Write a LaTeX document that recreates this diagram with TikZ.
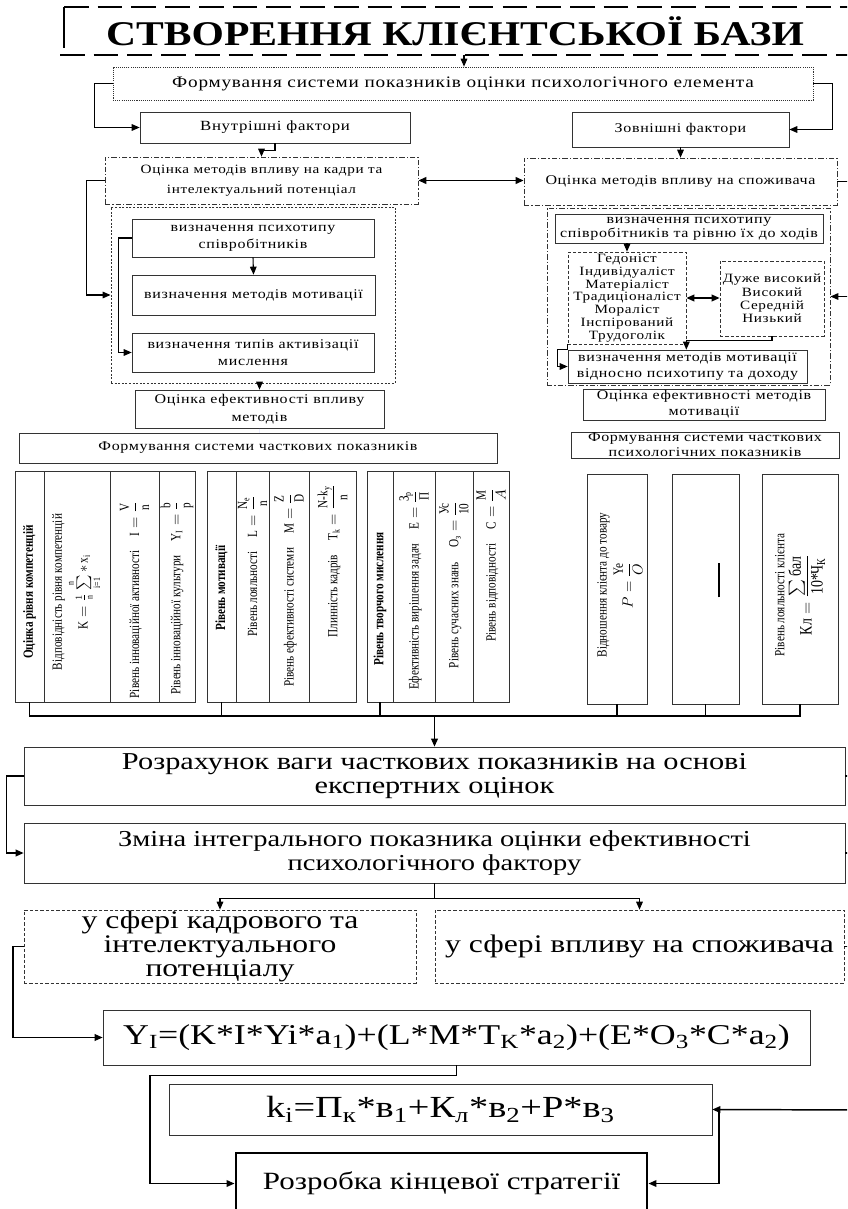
\documentclass[tikz,border=0pt]{standalone}
\usepackage{amsmath}
\usepackage{fontspec}
\setmainfont{Liberation Serif}
\newfontfamily\lsp[FakeStretch=1.2,LetterSpace=5]{Liberation Serif}
\newfontfamily\wide[FakeStretch=1.25]{Liberation Serif}
\newfontfamily\cond[FakeStretch=0.8]{Liberation Serif}
\newfontfamily\titlef[FakeStretch=1.2]{Liberation Serif Bold}
\usetikzlibrary{arrows.meta,calc}
\newcommand{\bxn}[6][]{\node[bx,#1, minimum width={(#5-#3)*0.75pt}, minimum height={(#6-#4)*0.75pt}] (#2) at ({(#3+#5)/2},{(#4+#6)/2})}
\begin{document}
\begin{tikzpicture}[x=0.75pt,y=-0.75pt,
  bx/.style={draw=black!80, line width=0.5pt, inner sep=0pt, align=center, text=black},
  sm/.style={font=\lsp\fontsize{10}{12}\selectfont},
  wd/.style={font=\wide\fontsize{17.5}{17.5}\selectfont},
  fm/.style={font=\wide\fontsize{21.5}{22}\selectfont},
  arr/.style={-{Triangle[length=6pt,width=5pt]}, line width=0.8pt},
  dbl/.style={{Triangle[length=6pt,width=5pt]}-{Triangle[length=6pt,width=5pt]}, line width=1.4pt},
  ln/.style={line width=0.8pt},
  dotb/.style={dash pattern=on 0.8pt off 0.8pt},
  ddotb/.style={dash pattern=on 4pt off 1.5pt on 1pt off 1.5pt},
  dashb/.style={dash pattern=on 2.5pt off 1.5pt},
  col/.style={draw=black!80, line width=0.5pt, inner sep=0pt},
  ctext/.style={font=\cond\fontsize{10.5}{12}\selectfont, align=center, inner sep=0pt, rotate=90},
  bus/.style={line width=1.2pt}
]
\clip (0,0) rectangle (847,1209);
\fill[white] (0,0) rectangle (847,1209);

% title
\node[font=\titlef\fontsize{26}{26}\selectfont, inner sep=0pt] (title) at (455,31.5) {СТВОРЕННЯ КЛІЄНТСЬКОЇ БАЗИ};
\draw[line width=1.4pt, dash pattern=on 18.5pt off 6.8pt] (64,7) -- (870,7);
\draw[line width=1.4pt, dash pattern=on 18.5pt off 6.8pt] (60,55) -- (870,55);
\draw[line width=1.2pt] (64,7) -- (64,48);
\coordinate (t0) at (464,55);

% top row
\bxn[dotb, font=\lsp\fontsize{12}{13}\selectfont]{f1}{113}{67}{813}{100}{Формування системи показників оцінки психологічного елемента};
\draw[arr] (t0) -- (t0 |- f1.north);
\bxn[font=\lsp\fontsize{10.5}{12}\selectfont]{vn}{140}{112}{410}{143}{Внутрішні фактори};
\bxn[sm]{zv}{572}{112}{789}{147}{Зовнішні фактори};
\draw[arr] (f1.west) -- ++(-18,0) |- (vn.west);
\draw[arr] (f1.east) -- ++(19,0) |- (zv.east);

\bxn[ddotb, font=\lsp\fontsize{9.5}{15}\selectfont]{o1}{105}{157}{418}{204}{Оцінка методів впливу на кадри та\\інтелектуальний потенціал};
\bxn[ddotb, sm]{o2}{524}{158}{837}{205}{Оцінка методів впливу на споживача};
\draw[arr] (vn.south) -- ++(0,7) -| (o1.north);
\draw[arr] (zv.south) -- (o2.north);
\draw[dbl] (o1.east) -- (o1.east -| o2.west);

% left container
\bxn[dash pattern=on 1.5pt off 1.2pt, line width=0.7pt]{cl}{111}{207}{395}{383}{};
\bxn[sm, font=\lsp\fontsize{10}{13}\selectfont]{b1}{132}{219}{374}{257}{визначення психотипу\\співробітників};
\bxn[sm]{b2}{132}{275}{375}{315}{визначення методів мотивації};
\bxn[sm, font=\lsp\fontsize{10}{13}\selectfont]{b3}{132}{333}{374}{372}{визначення типів активізації\\мислення};
\draw[arr] (b1.south) -- (b2.north);
\draw[arr] (b1.west) -- ++(-13,0) |- (b3.west);
\draw[arr] (o1.west) -- ++(-18,0) |- (cl.west);
\bxn[sm, font=\lsp\fontsize{10}{13}\selectfont]{ef1}{135}{390}{384}{428}{Оцінка ефективності впливу\\методів};
\draw[arr] (cl.south -| ef1.north) -- (ef1.north);
\draw[-{Triangle[length=4pt,width=5pt]}, line width=0.6pt, draw=none, fill=blue!55] (ef1.south) -- ++(0,5);
\bxn[sm]{fsl}{19}{433}{497}{463}{Формування системи часткових показників};

% right container
\bxn[ddotb, line width=0.6pt]{cr}{547}{208}{830}{385}{};
\bxn[font=\lsp\fontsize{10}{10.5}\selectfont]{rb1}{555}{214}{823}{243}{визначення психотипу\\співробітників та рівню їх до ходів};
\bxn[dashb, font=\lsp\fontsize{9.5}{9.6}\selectfont]{lst}{568}{252}{686}{344}{Гедоніст\\Індивідуаліст\\Матеріаліст\\Традиціоналіст\\Мораліст\\Інспірований\\Трудоголік};
\bxn[dashb, font=\lsp\fontsize{9.5}{9.9}\selectfont]{lvl}{720}{261}{824}{336}{Дуже високий\\Високий\\Середній\\Низький};
\bxn[font=\lsp\fontsize{10}{11.5}\selectfont]{mm}{568}{350}{807}{383}{визначення методів мотивації\\відносно психотипу та доходу};
\draw[arr] (rb1.south -| lst.north) -- (lst.north);
\draw[dbl, line width=1.2pt] (lst.east) -- (lst.east -| lvl.west);
\draw[arr] (lvl.south) -- ++(0,4) -| (mm.north -| lst.east);
\draw[arr] (lst.south west) -- ++(0,5) -- ++(-10,0) |- (mm.west);
\draw[arr] (o2.east) -- ++(20,0) |- (cr.east);
\bxn[font=\lsp\fontsize{10}{12}\selectfont]{ef2}{583}{389}{825}{420}{Оцінка ефективності методів\\мотивації};
\bxn[font=\lsp\fontsize{10}{11}\selectfont]{fsp}{571}{432}{839}{458}{Формування системи часткових\\психологічних показників};

% columns
\foreach \n/\a/\b in {c1/15/44, c2/44/110, c3/110/159, c4/159/195, c5/207/236, c6/236/269, c7/269/309, c8/309/356, c9/367/393, c10/393/435, c11/435/473, c12/473/509}
  \bxn[col]{\n}{\a}{471}{\b}{702}{};
\foreach \n/\a/\b in {r1/587/647, r2/672/739, r3/762/838}
  \bxn[col]{\n}{\a}{474}{\b}{704}{};

\node[ctext, font=\cond\bfseries\fontsize{10.5}{12}\selectfont] (t1) at (29.5,592) {Оцінка рівня компетенцій};
\node[ctext] (t2) at (77,592) {Відповідність рівня компетенцій\\[1pt] $\text{K}=\frac{1}{\text{n}}\sum\limits_{\text{i=1}}^{\text{n}}{*}\,\text{x}_{\text{i}}$};
\node[ctext] (t3) at (134.5,600) {Рівень інноваційної активності\quad $\text{I}=\dfrac{\text{V}}{\text{n}}$};
\node[ctext] (t4) at (177,598) {Рівень інноваційної культури\quad $\text{Y}_\text{I}=\dfrac{\text{b}}{\text{p}}$};
\node[ctext, font=\cond\bfseries\fontsize{10.5}{12}\selectfont] (t5) at (221.5,588) {Рівень мотивації};
\node[ctext] (t6) at (252.5,566) {Рівень лояльності\quad $\text{L}=\dfrac{\text{N}_\text{e}}{\text{n}}$};
\node[ctext] (t7) at (289,590) {Рівень ефективності системи\quad $\text{M}=\dfrac{\text{Z}}{\text{D}}$};
\node[ctext] (t8) at (332.5,561) {Плинність кадрів\quad $\text{T}_\text{k}=\dfrac{\text{N-k}_\text{y}}{\text{n}}$};
\node[ctext, font=\cond\bfseries\fontsize{10.5}{12}\selectfont] (t9) at (380,599) {Рівень творчого мислення};
\node[ctext] (t10) at (414,590) {Ефективність вирішення задач\quad $\text{E}=\dfrac{\text{З}_\text{p}}{\text{П}}$};
\node[ctext] (t11) at (454,585) {Рівень сучасних знань\quad $\text{O}_\text{з}=\dfrac{\text{Ус}}{\text{10}}$};
\node[ctext] (t12) at (491,565) {Рівень відповідності\quad $\text{C}=\dfrac{\text{M}}{A}$};
\node[ctext] (u1) at (620,585) {Відношення клієнта до товару\\[2pt] $P=\dfrac{\text{Ye}}{O}$};
\node[ctext] (u2) at (719,580) {\rule{26pt}{0.8pt}};
\node[ctext] (u3) at (800,595) {Рівень лояльності клієнта\\[2pt] {\fontsize{13}{14}\selectfont $\text{Кл}=\dfrac{\sum\text{бал}}{\text{10*Ч}_\text{К}}$}};

% bus
\coordinate (busL) at (29.5,716);
\coordinate (busR) at (800,716);
\draw[bus] (c1.south) |- (busR) -- (r3.south);
\foreach \n in {c5,c9,r1,r2}
  \draw[bus] (\n.south) -- (\n.south |- busL);

% bottom
\bxn[wd, font=\wide\fontsize{18.2}{17.5}\selectfont]{rozr}{24}{747}{845}{805}{Розрахунок ваги часткових показників на основі\\експертних оцінок};
\draw[arr, line width=1.2pt] (rozr.north |- busL) -- (rozr.north);
\bxn[wd, font=\wide\fontsize{17.1}{17.5}\selectfont]{zmina}{24}{823}{845}{883}{Зміна інтегрального показника оцінки ефективності\\психологічного фактору};
\draw[arr, line width=1.1pt] (rozr.west) -- ++(-17,0) |- (zmina.west);
\draw[ln] (rozr.east) -- ++(20,0);
\draw[ln] (zmina.east) -- ++(20,0);
\draw[ln] (zmina.south) -- ++(0,15) coordinate (sp);
\bxn[dashb, font=\wide\fontsize{19}{16}\selectfont]{sf1}{24}{910}{416}{983}{у сфері кадрового та\\інтелектуального\\потенціалу};
\bxn[dashb, font=\wide\fontsize{19}{17}\selectfont]{sf2}{435}{910}{844}{983}{у сфері впливу на споживача};
\draw[arr] (sp) -| (sf1.north);
\draw[arr] (sp) -| (sf2.north);
\draw[ln] (sf2.east) -- ++(20,0);

\bxn[fm]{yb}{103}{1010}{810}{1065}{Y\textsubscript{I}=(K*I*Yi*a\textsubscript{1})+(L*M*T\textsubscript{K}*a\textsubscript{2})+(E*O\textsubscript{3}*C*a\textsubscript{2})};
\draw[arr, line width=1.1pt] (sf1.west) -- ++(-10.5,0) |- (yb.west);
\bxn[font=\wide\fontsize{23}{23}\selectfont]{kb}{169}{1084}{712}{1135}{k\textsubscript{i}=П\textsubscript{к}*в\textsubscript{1}+К\textsubscript{л}*в\textsubscript{2}+P*в\textsubscript{3}};
\bxn[draw=black, line width=2.2pt, font=\wide\fontsize{18.6}{18}\selectfont]{rb}{236}{1153}{647}{1214}{Розробка кінцевої стратегії};
\draw[arr, line width=1.1pt] (yb.south) -- ++(0,10) -- ++(-306.5,0) |- (rb.west);
\coordinate (rin) at (870,1110);
\draw[arr, line width=1.1pt] (rin) -- (kb.east);
\draw[arr, line width=1.1pt] ($(kb.east)+(6.5,0)$) |- (rb.east);
\end{tikzpicture}
\end{document}
